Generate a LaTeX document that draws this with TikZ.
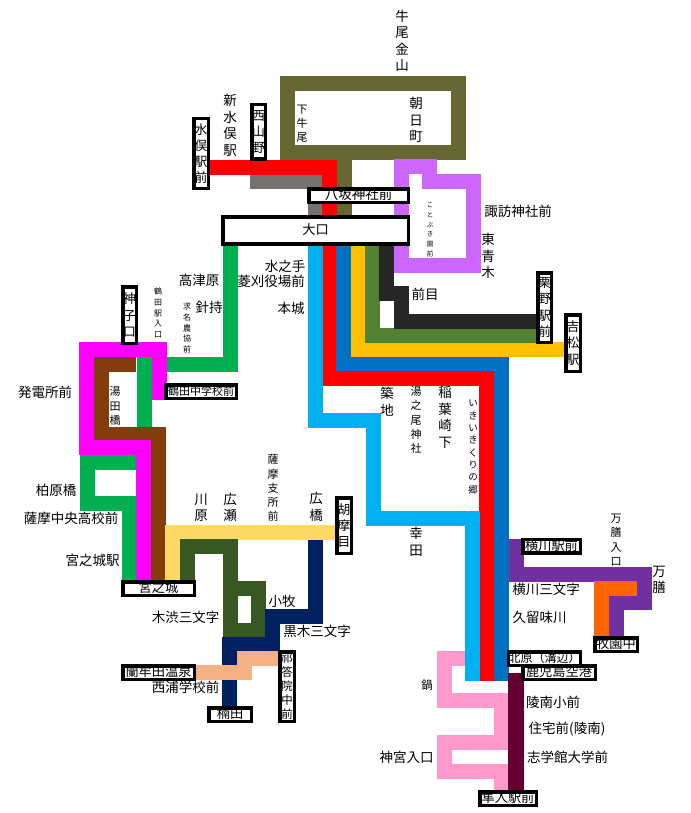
\documentclass[tikz,border=0pt]{standalone}
\usepackage{fontspec}
\setmainfont{Noto Sans CJK JP}
\usetikzlibrary{backgrounds}
\definecolor{oliveline}{HTML}{666633}
\definecolor{grayline}{HTML}{767171}
\definecolor{lilacline}{HTML}{CC66FF}
\definecolor{cyanline}{HTML}{00B0F0}
\definecolor{blueline}{HTML}{0070C0}
\definecolor{goldline}{HTML}{FFC000}
\definecolor{mossline}{HTML}{548235}
\definecolor{blackline}{HTML}{262626}
\definecolor{greenline}{HTML}{00B050}
\definecolor{magentaline}{HTML}{FF00FF}
\definecolor{brownline}{HTML}{843C0C}
\definecolor{paleline}{HTML}{FFD966}
\definecolor{forestline}{HTML}{385723}
\definecolor{navyline}{HTML}{002060}
\definecolor{salmonline}{HTML}{F4B183}
\definecolor{violetline}{HTML}{7030A0}
\definecolor{orangeline}{HTML}{FF6600}
\definecolor{maroonline}{HTML}{660033}
\definecolor{pinkline}{HTML}{FF99CC}
\tikzstyle{route} = [line width=15pt]
\tikzstyle{stn} = [rectangle, draw=black, fill=white, line width=3.5pt, inner sep=0pt, align=center, font=\fontsize{12.8}{16.2}\selectfont]
\tikzstyle{hstn} = [stn, text height=10pt, text depth=1.5pt, font=\fontsize{13.2}{16}\selectfont]
\tikzstyle{lab} = [inner sep=0pt, align=center, font=\fontsize{13.5}{16.5}\selectfont]
\tikzstyle{sublab} = [lab, font=\fontsize{11}{14.2}\selectfont]
\tikzstyle{minilab} = [lab, font=\fontsize{8}{10.8}\selectfont]
\begin{document}
\begin{tikzpicture}[x=1pt,y=-1pt]
\useasboundingbox (0,0) rectangle (690,813);

\node (mizumata) [stn, minimum width=14.5pt, minimum height=69.5pt] at (201,153.5) {水\\俣\\駅\\前};
\node (nishiyama) [stn, minimum width=13.5pt, minimum height=54.5pt] at (258.5,132) {西\\山\\野};
\node (yasaka) [hstn, minimum width=99.5pt, minimum height=13.5pt, font=\fontsize{13.5}{16}\selectfont] at (358.5,195.5) {八坂神社前};
\node (ookuchi) [hstn, minimum width=185.5pt, minimum height=27pt] at (315.5,230.5) {大口};
\node (kurino) [stn, minimum width=13.5pt, minimum height=69.5pt] at (544.5,307.5) {栗\\野\\駅\\前};
\node (yoshimatsu) [stn, minimum width=14.5pt, minimum height=56.5pt] at (573,343) {吉\\松\\駅};
\node (kamiko) [stn, minimum width=13.5pt, minimum height=56.5pt] at (129.5,315) {神\\子\\口};
\node (tsuruta) [hstn, minimum width=70.5pt, minimum height=13.5pt, font=\fontsize{11}{14}\selectfont] at (201,391.5) {鶴田中学校前};
\node (miyanojo) [hstn, minimum width=71.5pt, minimum height=13.5pt] at (158.5,588.5) {宮之城};
\node (gomame) [stn, minimum width=14.5pt, minimum height=55.5pt] at (344,525.5) {胡\\摩\\目};
\node (kusuda) [hstn, minimum width=42.5pt, minimum height=13.5pt] at (230,714.5) {楠田};
\node (randa) [hstn, minimum width=71.5pt, minimum height=13.5pt] at (158.5,672.5) {蘭牟田温泉};
\node (keidoin) [stn, minimum width=14.5pt, minimum height=69.5pt, font=\fontsize{11.5}{14.2}\selectfont] at (287,686.5) {祁\\答\\院\\中\\前};
\node (yokogawa) [hstn, minimum width=57.5pt, minimum height=13.5pt] at (551.5,546) {横川駅前};
\node (makizono) [hstn, minimum width=42.5pt, minimum height=13.5pt] at (616,644.5) {牧園中};
\node (kitahara) [hstn, minimum width=71.5pt, minimum height=13.5pt, font=\fontsize{12}{14}\selectfont] at (544.5,658.5) {北原（溝辺）};
\node (kagoshima) [hstn, minimum width=72.5pt, minimum height=13.5pt] at (559,672.5) {鹿児島空港};
\node (hayato) [hstn, minimum width=56.5pt, minimum height=13.5pt] at (508,798.5) {隼人駅前};

\node (ushio) [lab] at (402,41) {牛\\尾\\金\\山};
\node (shinmizu) [lab] at (230,125.5) {新\\水\\俣\\駅};
\node (shimo) [sublab] at (302,123.5) {下\\牛\\尾};
\node (asahi) [lab] at (416,120) {朝\\日\\町};
\node (suwa) [lab] at (518,211) {諏訪神社前};
\node (higashi) [lab] at (488,256) {東\\青\\木};
\node (kotobuki) [lab, font=\fontsize{6.5}{9.8}\selectfont] at (430,230) {こ\\と\\ぶ\\き\\園\\前};
\node (takatsu) [lab] at (199,280) {高津原};
\node (mizunote) [lab] at (285,266) {水之手};
\node (hishikari) [lab] at (271,281) {菱刈役場前};
\node (hontou) [lab] at (291,308) {本城};
\node (harimochi) [lab] at (209,307) {針持};
\node (gumyo) [minilab] at (187,328) {求\\名\\農\\協\\前};
\node (tsurueki) [minilab] at (158,313) {鶴\\田\\駅\\入\\口};
\node (maeme) [lab] at (425,294) {前目};
\node (hatsuden) [lab] at (45,392) {発電所前};
\node (yuda) [sublab] at (115,406) {湯\\田\\橋};
\node (kashiwa) [lab] at (56,490) {柏原橋};
\node (chuo) [lab] at (71,518) {薩摩中央高校前};
\node (miyaeki) [lab] at (92.5,560) {宮之城駅};
\node (kawara) [lab] at (201,507.5) {川\\原};
\node (hirose) [lab] at (230,507.5) {広\\瀬};
\node (shisho) [sublab] at (273,488) {薩\\摩\\支\\所\\前};
\node (hirohashi) [lab] at (316,507) {広\\橋};
\node (komaki) [lab] at (282,601) {小牧};
\node (kishibu) [lab] at (185.5,617) {木渋三文字};
\node (kuroki) [lab] at (317,631) {黒木三文字};
\node (nishiura) [lab] at (185.5,687) {西浦学校前};
\node (tsukiji) [lab] at (387,401.5) {築\\地};
\node (yunoo) [sublab] at (416,420) {湯\\之\\尾\\神\\社};
\node (inaba) [lab] at (445,417.5) {稲\\葉\\崎\\下};
\node (ikiiki) [lab, font=\fontsize{9.5}{12.3}\selectfont] at (473,447) {い\\き\\い\\き\\く\\り\\の\\郷};
\node (saita) [lab] at (416,542) {幸\\田};
\node (sanmoji) [lab] at (546,589) {横川三文字};
\node (kurumi) [lab] at (539.5,617) {久留味川};
\node (manzeniri) [sublab] at (616,540) {万\\膳\\入\\口};
\node (manzen) [lab] at (659,580) {万\\膳};
\node (nabe) [lab, font=\fontsize{11.5}{12}\selectfont] at (427,685) {鍋};
\node (ryonan) [lab] at (553,702) {陵南小前};
\node (jutaku) [lab] at (567,729) {住宅前(陵南)};
\node (shigaku) [lab] at (567.5,757) {志学館大学前};
\node (jingu) [lab] at (406.5,757) {神宮入口};

\begin{scope}[on background layer]
\draw [route, oliveline] (344,0 |- ookuchi) -- (344,153) -- (287,153) -- (287,83.5) -- (458.5,83.5) -- (458.5,153) -- (344,153);
\draw [route, grayline] (nishiyama.west |- 0,181.5) -- (315,181.5) -- (315,0 |- ookuchi);
\draw [route, red] (mizumata |- 0,167.5) -- (329,167.5) -- (329,378) -- (486.5,378) -- (486.5,0 |- kagoshima.south);
\draw [route, lilacline] (401.5,167) -- (429.5,167) -- (429.5,181.5) -- (473,181.5) -- (473,265.5) -- (401.5,265.5) -- cycle;
\draw [route, cyanline] (315,0 |- ookuchi) -- (315,420) -- (373,420) -- (373,518.5) -- (472,518.5) -- (472,0 |- kagoshima.south);
\draw [route, blueline] (343.5,0 |- ookuchi) -- (343.5,363) -- (501.5,363) -- (501.5,0 |- kagoshima.south);
\draw [route, goldline] (358,0 |- ookuchi) -- (358,349) -- (yoshimatsu |- 0,349);
\draw [route, mossline] (372.5,0 |- ookuchi) -- (372.5,335) -- (kurino |- 0,335);
\draw [route, blackline] (386.5,0 |- ookuchi) -- (386.5,293.5) -- (401.5,293.5) -- (401.5,321) -- (kurino |- 0,321);
\draw [route, greenline] (230,0 |- ookuchi) -- (230,364) -- (144,364) -- (144,434);
\draw [route, greenline] (143.5,462) -- (87,462) -- (87,503.5) -- (129,503.5) -- (129,0 |- miyanojo);
\draw [route, brownline] (136,364) -- (101,364) -- (101,434) -- (158.5,434) -- (158.5,0 |- miyanojo);
\draw [route, magentaline] (159,0 |- tsuruta.south) -- (159,349) -- (86,349) -- (86,447.5) -- (143.5,447.5) -- (143.5,0 |- miyanojo);
\draw [route, paleline] (172,0 |- miyanojo) -- (172,532.5) -- (gomame |- 0,532.5);
\draw [route, forestline] (187,0 |- miyanojo) -- (187,546.5) -- (230,546.5) -- (230,630) -- (258,630) -- (258,588.5) -- (230,588.5);
\draw [route, navyline] (315.5,540) -- (315.5,616.5) -- (272.5,616.5) -- (272.5,644) -- (229.5,644) -- (229.5,0 |- kusuda);
\draw [route, salmonline] (keidoin |- 0,658.5) -- (244,658.5) -- (244,672.5) -- (randa |- 0,672.5);
\draw [route, violetline] (516.5,539) -- (516.5,574.5) -- (644.5,574.5) -- (644.5,602.5) -- (616,602.5) -- (616,0 |- makizono);
\draw [route, orangeline] (637,588.5) -- (601,588.5) -- (601,0 |- makizono);
\draw [route, pinkline] (465,658.5) -- (444.5,658.5) -- (444.5,700) -- (501,700) -- (501,742.5) -- (444.5,742.5) -- (444.5,771) -- (501,771) -- (501,0 |- hayato);
\draw [route, maroonline, line width=16pt] (516,0 |- kagoshima) -- (516,0 |- hayato);
\end{scope}
\end{tikzpicture}
\end{document}
